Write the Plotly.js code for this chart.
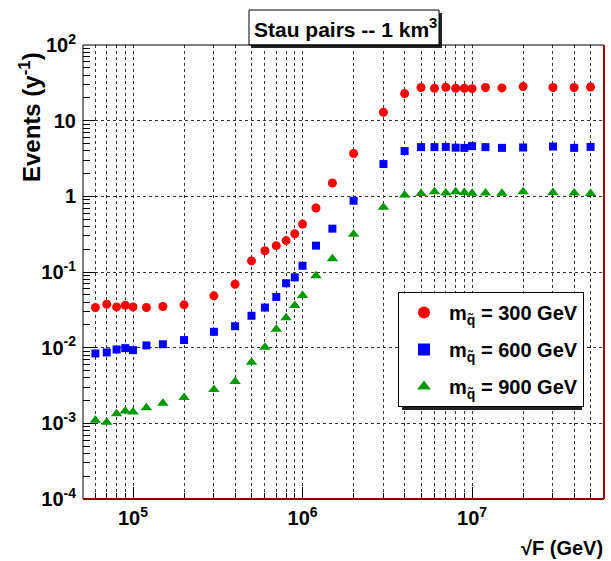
<!DOCTYPE html>
<html>
<head>
<meta charset="utf-8">
<script src="https://cdn.plot.ly/plotly-3.0.1.min.js"></script>
<style>html,body{margin:0;padding:0;background:#fff;}#chart{width:611px;height:561px;}</style>
</head>
<body>
<div id="chart"></div>
<script>
// Data
const sqrtF = [6e4, 7e4, 8e4, 9e4, 1e5, 1.2e5, 1.5e5, 2e5, 3e5, 4e5, 5e5, 6e5, 7e5, 8e5, 9e5,
  1e6, 1.2e6, 1.5e6, 2e6, 3e6, 4e6, 5e6, 6e6, 7e6, 8e6, 9e6, 1e7, 1.2e7, 1.5e7, 2e7, 3e7, 4e7, 5e7];
const events300 = [0.0339, 0.0375, 0.0346, 0.0364, 0.0346, 0.0339, 0.0350, 0.0368, 0.0484, 0.0689, 0.140, 0.191, 0.223, 0.26, 0.32,
  0.43, 0.70, 1.50, 3.68, 12.9, 22.8, 27.4, 26.8, 27.6, 26.8, 26.8, 26.5, 27.4, 27.1, 28.2, 27.4, 27.4, 27.9];
const events600 = [0.00838, 0.00865, 0.00946, 0.00986, 0.00927, 0.0107, 0.0111, 0.0126, 0.0162, 0.0192, 0.0264, 0.0339, 0.0469, 0.071, 0.085,
  0.121, 0.223, 0.374, 0.875, 2.67, 3.96, 4.47, 4.47, 4.5, 4.4, 4.37, 4.61, 4.47, 4.37, 4.42, 4.55, 4.37, 4.5];
const events900 = [0.0011, 0.00103, 0.00134, 0.00146, 0.00141, 0.00161, 0.00184, 0.0022, 0.00281, 0.00358, 0.00644, 0.0101, 0.0175, 0.0248, 0.036,
  0.049, 0.089, 0.150, 0.315, 0.715, 1.04, 1.09, 1.15, 1.11, 1.15, 1.12, 1.10, 1.11, 1.10, 1.15, 1.12, 1.11, 1.09];
const seriesNames = ["m<sub>q̃</sub> = 300 GeV", "m<sub>q̃</sub> = 600 GeV", "m<sub>q̃</sub> = 900 GeV"];
const xTickVals = [1e5, 1e6, 1e7];
const xTickText = ["10<sup>5</sup>", "10<sup>6</sup>", "10<sup>7</sup>"];
const yTickVals = [1e-4, 1e-3, 1e-2, 1e-1, 1, 10, 100];
const yTickText = ["10<sup>-4</sup>", "10<sup>-3</sup>", "10<sup>-2</sup>", "10<sup>-1</sup>", "1", "10", "10<sup>2</sup>"];
const titleText = "Stau pairs -- 1 km<sup>3</sup>";
const yTitle = "Events (y<sup>-1</sup>)";
const xTitle = "√F (GeV)";

const FONT = "Liberation Sans, Arial, Helvetica, sans-serif";
// plot area in pixels
const L = 83, R = 604, T = 45, B = 499, W = 611, H = 561;
const px = x => (x - L) / (R - L);
const py = y => (B - y) / (B - T);

const mk = (y, name, symbol, color, size, grp) => ({
  type: 'scatter', mode: 'markers', x: sqrtF, y: y, name: name, legendgroup: grp,
  marker: {symbol: symbol, color: color, size: size, line: {width: 0}}
});

const data = [
  mk(events300, seriesNames[0], 'circle', '#ff0000', 9, 'a'),
  mk(events600, seriesNames[1], 'square', '#0000ff', 8, 'b'),
  mk(events900, seriesNames[2], 'triangle-up', '#009900', 10, 'c')
];

const layout = {
  width: W, height: H,
  margin: {l: L, r: W - R, t: T, b: H - B, pad: 0},
  paper_bgcolor: '#fff', plot_bgcolor: '#fff',
  showlegend: true,
  font: {family: FONT, size: 18, color: '#000', weight: 'bold'},
  xaxis: {
    type: 'log', range: [Math.log10(5.07e4), Math.log10(6.0e7)],
    tickmode: 'array', tickvals: xTickVals, ticktext: xTickText,
    ticks: 'inside', ticklen: 12, tickcolor: '#000', tickwidth: 1,
    tickfont: {family: FONT, size: 20, weight: 'bold'},
    ticklabelstandoff: 5,
    showgrid: true, gridcolor: '#333', griddash: 'dot', gridwidth: 1,
    minor: {dtick: 'D1', ticks: 'inside', ticklen: 6, tickcolor: '#000', showgrid: true, gridcolor: '#333', griddash: 'dot', gridwidth: 1},
    showline: false, zeroline: false, mirror: false
  },
  yaxis: {
    type: 'log', range: [-4, 2],
    tickmode: 'array', tickvals: yTickVals, ticktext: yTickText,
    ticks: 'inside', ticklen: 12, tickcolor: '#000', tickwidth: 1,
    tickfont: {family: FONT, size: 20, weight: 'bold'},
    ticklabelstandoff: 6,
    showgrid: true, gridcolor: '#333', griddash: 'dot', gridwidth: 1,
    minor: {dtick: 'D1', ticks: 'inside', ticklen: 7, tickcolor: '#000', showgrid: false},
    showline: false, zeroline: false
  },
  legend: {
    x: px(398), y: py(292), xanchor: 'left', yanchor: 'top',
    bgcolor: '#fff', bordercolor: '#000', borderwidth: 1,
    font: {family: FONT, size: 20, weight: 'bold'},
    traceorder: 'grouped', tracegroupgap: 8, itemsizing: 'constant', itemwidth: 40
  },
  shapes: [
    // legend shadow
    {type: 'rect', xref: 'paper', yref: 'paper', x0: px(402), x1: px(582), y0: py(296), y1: py(410), fillcolor: '#222', line: {width: 0}, layer: 'above'},
    // title box shadow
    {type: 'rect', xref: 'paper', yref: 'paper', x0: px(252), x1: px(442), y0: py(13), y1: py(48), fillcolor: '#222', line: {width: 0}, layer: 'above'},
    // title box
    {type: 'rect', xref: 'paper', yref: 'paper', x0: px(249), x1: px(439), y0: py(10), y1: py(45), fillcolor: '#fff', line: {width: 1, color: '#000'}, layer: 'above'},
    // frame
    {type: 'line', xref: 'paper', yref: 'paper', x0: 0, x1: 0, y0: 0, y1: 1, line: {width: 1, color: '#000'}},
    {type: 'line', xref: 'paper', yref: 'paper', x0: 0, x1: 1, y0: 1, y1: 1, line: {width: 1, color: '#000'}},
    {type: 'line', xref: 'paper', yref: 'paper', x0: 0, x1: 1, y0: 0, y1: 0, line: {width: 2, color: '#8b0000'}},
    {type: 'line', xref: 'paper', yref: 'paper', x0: 1, x1: 1, y0: 0, y1: 1, line: {width: 2, color: '#a00000'}}
  ],
  annotations: [
    {xref: 'paper', yref: 'paper', x: px(345), y: py(28), xanchor: 'center', yanchor: 'middle', showarrow: false,
      text: titleText, font: {family: FONT, size: 21, weight: 'bold'}},
    {xref: 'paper', yref: 'paper', x: px(30), y: py(117), xanchor: 'center', yanchor: 'middle', showarrow: false,
      textangle: -90, text: yTitle, font: {family: FONT, size: 24, weight: 'bold'}},
    {xref: 'paper', yref: 'paper', x: px(605), y: py(548), xanchor: 'right', yanchor: 'middle', showarrow: false,
      text: xTitle, font: {family: FONT, size: 20, weight: 'bold'}}
  ]
};

Plotly.newPlot('chart', data, layout, {staticPlot: true, displayModeBar: false});
</script>
</body>
</html>
